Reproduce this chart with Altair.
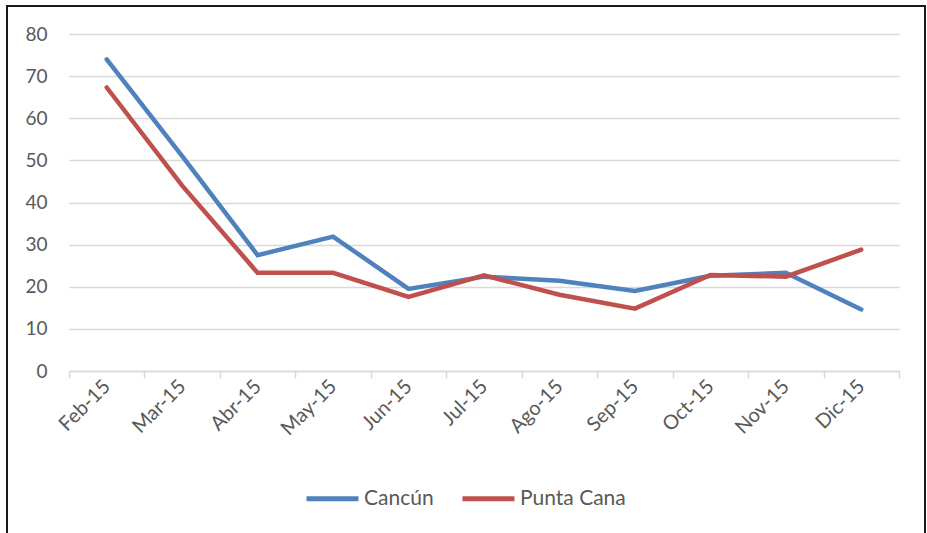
import altair as alt
import pandas as pd

# Monthly series
months = ["Feb-15", "Mar-15", "Abr-15", "May-15", "Jun-15", "Jul-15",
          "Ago-15", "Sep-15", "Oct-15", "Nov-15", "Dic-15"]
cancun = [74.0, 51.0, 27.5, 31.9, 19.5, 22.4, 21.4, 19.0, 22.6, 23.3, 14.6]
punta_cana = [67.3, 44.0, 23.3, 23.3, 17.6, 22.7, 18.1, 14.8, 22.8, 22.4, 28.8]

series_names = ["Cancún", "Punta Cana"]
series_colors = ["#4F81BD", "#C0504D"]

df = pd.concat([
    pd.DataFrame({"Mes": months, "Valor": cancun, "Serie": series_names[0]}),
    pd.DataFrame({"Mes": months, "Valor": punta_cana, "Serie": series_names[1]}),
])

FONT = "Lato"
GRAY = "#595959"

lines = alt.Chart(df).mark_line(strokeWidth=4.5, strokeCap="round", strokeJoin="miter").encode(
    x=alt.X("Mes:N", sort=months, title=None,
            scale=alt.Scale(paddingInner=0, paddingOuter=0),
            axis=alt.Axis(labelAngle=-45, labelAlign="right", labelBaseline="middle",
                          labelPadding=5, tickBand="extent", tickSize=7,
                          domainColor="#d9d9d9", tickColor="#d9d9d9",
                          domainWidth=1.5, tickWidth=1.5, grid=False,
                          labelFontSize=20, labelColor=GRAY, labelFont=FONT)),
    y=alt.Y("Valor:Q", title=None,
            scale=alt.Scale(domain=[0, 80], nice=False),
            axis=alt.Axis(values=list(range(0, 81, 10)), domain=False, ticks=False,
                          labelPadding=22, gridColor="#d9d9d9", gridWidth=1.5,
                          labelFontSize=19, labelColor=GRAY, labelFont=FONT)),
    color=alt.Color("Serie:N", sort=series_names,
                    scale=alt.Scale(domain=series_names, range=series_colors),
                    legend=alt.Legend(title=None, orient="none", direction="horizontal",
                                      legendX=235, legendY=436,
                                      symbolType="stroke", symbolSize=2704,
                                      symbolStrokeWidth=5, symbolStrokeColor=None,
                                      labelFontSize=21, labelColor=GRAY, labelFont=FONT,
                                      columnPadding=18, labelOffset=3)),
)

# Outer frame around the whole figure
frame = alt.Chart(pd.DataFrame({"a": [0]})).mark_rect(
    fill=None, stroke="#1a1a1a", strokeWidth=2
).encode(x=alt.value(-62), x2=alt.value(856), y=alt.value(-28), y2=alt.value(520))

chart = alt.layer(lines, frame).properties(
    width=830, height=337,
    autosize=alt.AutoSizeParams(type="none"),
    padding={"left": 69, "top": 34, "right": 28, "bottom": 162},
).configure_view(stroke=None)

chart.save("out.html", embed_options={"renderer": "svg", "actions": False})
